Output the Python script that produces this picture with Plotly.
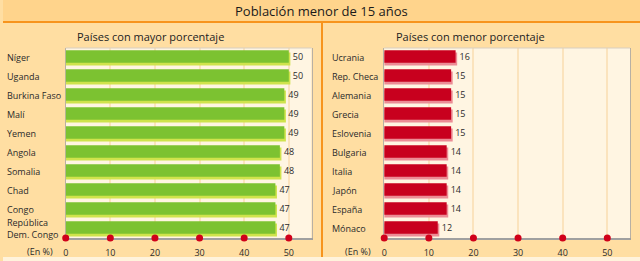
import plotly.graph_objects as go

title = "Población menor de 15 años"
left_title = "Países con mayor porcentaje"
right_title = "Países con menor porcentaje"
left_countries = ["Níger", "Uganda", "Burkina Faso", "Malí", "Yemen", "Angola", "Somalia", "Chad", "Congo", "República<br>Dem. Congo"]
left_values = [50, 50, 49, 49, 49, 48, 48, 47, 47, 47]
right_countries = ["Ucrania", "Rep. Checa", "Alemania", "Grecia", "Eslovenia", "Bulgaria", "Italia", "Japón", "España", "Mónaco"]
right_values = [16, 15, 15, 15, 15, 14, 14, 14, 14, 12]
tick_vals = [0, 10, 20, 30, 40, 50]
unit_label = "(En %)"

W, H = 640, 261
FONT = "Open Sans"
TXT = "#2b2b2b"

fig = go.Figure()

def px_x(x):
    return x / W

def px_y(y):
    return (H - y) / H

ydom = [px_y(238), px_y(48)]
panels = [
    dict(names=left_countries, vals=left_values, dom=[px_x(63), px_x(310)], main="#7cc231", shadow="#cfe34c",
         label_x=2, ax="x", ay="y", title=left_title, tx=148, unit_x=52),
    dict(names=right_countries, vals=right_values, dom=[px_x(383), px_x(630)], main="#c8001e", shadow="#ec8c95",
         label_x=329, ax="x2", ay="y2", title=right_title, tx=470, unit_x=372),
]

for i, p in enumerate(panels):
    idx = list(range(len(p["vals"])))
    fig.add_trace(go.Bar(x=[v + 0.35 for v in p["vals"]], y=idx, orientation="h", width=0.68, offset=-0.26,
                         marker=dict(color=p["shadow"], line=dict(width=0)), xaxis=p["ax"], yaxis=p["ay"],
                         hoverinfo="skip", showlegend=False))
    fig.add_trace(go.Bar(x=p["vals"], y=idx, orientation="h", width=0.66, offset=-0.38,
                         marker=dict(color=p["main"], line=dict(width=0)), xaxis=p["ax"], yaxis=p["ay"],
                         showlegend=False))
    fig.add_trace(go.Scatter(x=[v + 0.9 for v in p["vals"]], y=idx, mode="text", text=[str(v) for v in p["vals"]],
                             textposition="middle right", textfont=dict(family=FONT, size=9, color=TXT),
                             xaxis=p["ax"], yaxis=p["ay"], showlegend=False, cliponaxis=False, hoverinfo="skip"))
    fig.add_trace(go.Scatter(x=tick_vals, y=[9.5] * len(tick_vals), mode="markers",
                             marker=dict(color="#d0001a", size=7, line=dict(width=0)), xaxis=p["ax"], yaxis=p["ay"],
                             showlegend=False, cliponaxis=False, hoverinfo="skip"))
    for j, name in enumerate(p["names"]):
        fig.add_annotation(x=px_x(p["label_x"]), xref="paper", y=j, yref=p["ay"], text=name, showarrow=False,
                           xanchor="left", yanchor="middle", align="left",
                           font=dict(family=FONT, size=9, color=TXT))
    fig.add_annotation(x=px_x(p["tx"]), xref="paper", y=px_y(36), yref="paper", text=p["title"], showarrow=False,
                       xanchor="center", yanchor="middle", font=dict(family=FONT, size=11, color="#222"))
    fig.add_annotation(x=px_x(p["unit_x"]), xref="paper", y=px_y(251), yref="paper",
                       text=unit_label, showarrow=False, xanchor="right", yanchor="middle",
                       font=dict(family=FONT, size=9, color=TXT))

axis_common = dict(range=[0, 55.1], tickvals=tick_vals, ticks="", showgrid=True, gridcolor="#fbe3bd", gridwidth=2,
                   zeroline=False, showline=True, linecolor="#a0a0a0", linewidth=2, mirror=False,
                   tickfont=dict(family=FONT, size=9, color=TXT), fixedrange=True, layer="below traces",
                   ticklabelstandoff=5)
yaxis_common = dict(range=[9.5, -0.5], showticklabels=False, showgrid=False, zeroline=False, showline=True,
                    linecolor="#b8b0a4", linewidth=1, mirror=True, ticks="", fixedrange=True, layer="below traces")

fig.update_layout(
    width=W, height=H, margin=dict(l=0, r=0, t=0, b=0),
    paper_bgcolor="#ffdea2", plot_bgcolor="#fff5e2", barmode="overlay",
    xaxis=dict(domain=panels[0]["dom"], anchor="y", **axis_common),
    xaxis2=dict(domain=panels[1]["dom"], anchor="y2", **axis_common),
    yaxis=dict(domain=ydom, anchor="x", **yaxis_common),
    yaxis2=dict(domain=ydom, anchor="x2", **yaxis_common),
    shapes=[
        dict(type="rect", xref="paper", yref="paper", x0=0, x1=1, y0=px_y(22), y1=1, fillcolor="#ffd48c",
             line=dict(width=0), layer="below"),
        dict(type="line", xref="paper", yref="paper", x0=0, x1=1, y0=px_y(22), y1=px_y(22),
             line=dict(color="#f7941d", width=2)),
        dict(type="line", xref="paper", yref="paper", x0=px_x(320.5), x1=px_x(320.5), y0=px_y(257), y1=px_y(22),
             line=dict(color="#f7941d", width=2)),
        dict(type="rect", xref="paper", yref="paper", x0=0, x1=1, y0=0, y1=px_y(257), fillcolor="#fff3dc",
             line=dict(width=0), layer="below"),
        dict(type="line", xref="paper", yref="paper", x0=panels[0]["dom"][0], x1=panels[0]["dom"][1], y0=ydom[1], y1=ydom[1],
             line=dict(color="#d8cfc0", width=1)),
        dict(type="line", xref="paper", yref="paper", x0=panels[1]["dom"][0], x1=panels[1]["dom"][1], y0=ydom[1], y1=ydom[1],
             line=dict(color="#d8cfc0", width=1)),
    ],
)
fig.add_annotation(x=0.5, xref="paper", y=px_y(11), yref="paper", text=title, showarrow=False,
                   xanchor="center", yanchor="middle", font=dict(family=FONT, size=13, color="#1a1a1a"))

fig.write_html("out.html")
